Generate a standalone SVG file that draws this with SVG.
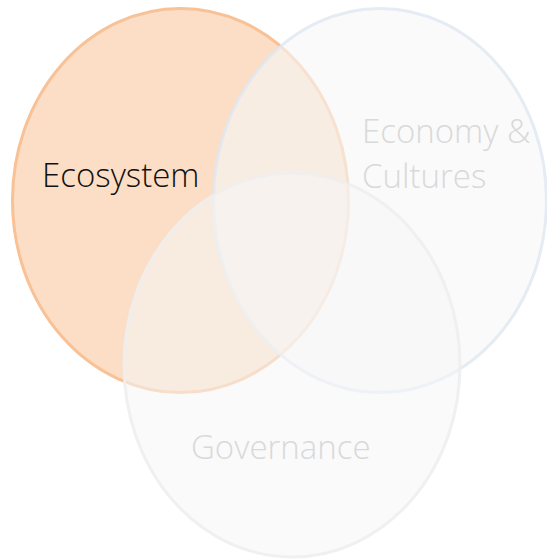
<svg xmlns="http://www.w3.org/2000/svg" width="547" height="560" viewBox="0 0 547 560">
<style>
.lbl{font-family:"Open Sans","Liberation Sans",sans-serif;font-weight:300;font-size:33px}
.dim{fill:#d9d9d9}
</style>
<rect width="547" height="560" fill="#ffffff"/>
<g id="ecosystem">
<ellipse cx="180.5" cy="200.5" rx="168" ry="192" fill="#fbdec5" stroke="#f8c196" stroke-width="3"/>
</g>
<g id="economy">
<ellipse cx="380" cy="200.5" rx="166.5" ry="192" fill="#f7f7f7" fill-opacity="0.6" stroke="#dfe7f1" stroke-opacity="0.8" stroke-width="3"/>
</g>
<g id="governance">
<ellipse cx="292" cy="365" rx="168" ry="192" fill="#f6f6f6" fill-opacity="0.55" stroke="#eeeeee" stroke-opacity="0.9" stroke-width="3"/>
</g>
<g id="labels">
<text class="lbl" x="42" y="187" fill="#111111">Ecosystem</text>
<text class="lbl dim" x="362" y="143">Economy &amp;</text>
<text class="lbl dim" x="362" y="188">Cultures</text>
<text class="lbl dim" x="191" y="459">Governance</text>
</g>
<g id="connectors"/>
</svg>
